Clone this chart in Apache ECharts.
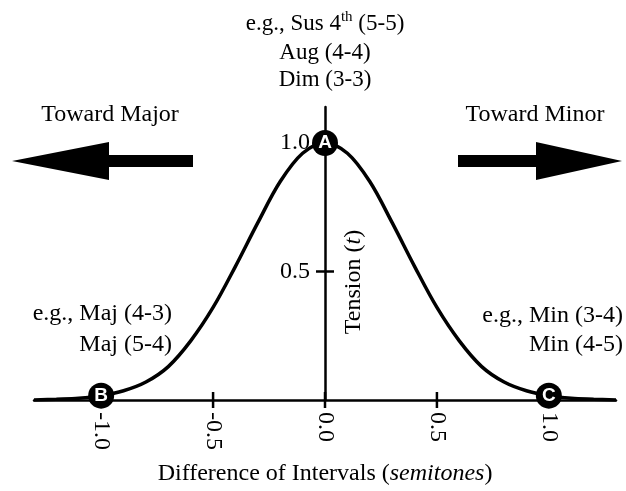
<!DOCTYPE html>
<html>
<head>
<meta charset="utf-8">
<script src="https://cdn.jsdelivr.net/npm/echarts@6/dist/echarts.min.js"></script>
<style>html,body{margin:0;padding:0;background:#fff}#c{width:626px;height:491px}</style>
</head>
<body>
<div id="c"></div>
<script>
// Data
const diffX   = [-1.3,-1.2,-1.1,-1.0,-0.9,-0.8,-0.7,-0.6,-0.5,-0.4,-0.3,-0.2,-0.1,0.0,0.1,0.2,0.3,0.4,0.5,0.6,0.7,0.8,0.9,1.0,1.1,1.2,1.3];
const tension = [0.0,0.003,0.007,0.017,0.036,0.07,0.13,0.23,0.36,0.52,0.69,0.85,0.96,1.0,0.96,0.85,0.69,0.52,0.36,0.23,0.13,0.07,0.036,0.017,0.007,0.003,0.0];
const xTicks = [-1.0,-0.5,0.0,0.5,1.0];
const yTicks = [0.5,1.0];
const markerNames = ['A','B','C'];
const markerX = [0.0,-1.0,1.0];
const markerY = [1.0,0.017,0.017];
const xTitle = 'Difference of Intervals';
const xTitleItalic = 'semitones';
const yTitle = 'Tension';
const yTitleItalic = 't';
const topNotes = ['Aug (4-4)','Dim (3-3)'];
const leftNotes = ['e.g., Maj (4-3)','Maj (5-4)'];
const rightNotes = ['e.g., Min (3-4)','Min (4-5)'];

const SERIF = "'Liberation Serif','Times New Roman',serif";
const FS = 24;
const chart = echarts.init(document.getElementById('c'), null, {renderer:'canvas'});

const txt = (text, x, y, align, fs) => ({
  type:'text', x:x, y:y, silent:true,
  style:{text:text, fontFamily:SERIF, fontSize:fs||FS, fill:'#000', align:align||'center', verticalAlign:'middle'}
});

chart.setOption({
  animation:false,
  backgroundColor:'#fff',
  grid:{left:34, right:10, top:107, bottom:91, containLabel:false, outerBoundsMode:'none'},
  xAxis:{
    type:'value', min:-1.3, max:1.3,
    axisLine:{show:true, onZero:true, lineStyle:{color:'#000', width:2.5}},
    axisTick:{show:false},
    splitLine:{show:false},
    axisLabel:{customValues:xTicks, rotate:-90, margin:12, fontFamily:SERIF, fontSize:FS, color:'#000',
      formatter:v=>v.toFixed(1)},
    name:'{n|'+xTitle+' (}{i|'+xTitleItalic+'}{n|)}',
    nameLocation:'middle', nameGap:62,
    nameTextStyle:{rich:{n:{fontFamily:SERIF,fontSize:FS,color:'#000'}, i:{fontFamily:SERIF,fontSize:FS,fontStyle:'italic',color:'#000'}}}
  },
  yAxis:{
    type:'value', min:0, max:1.14,
    axisLine:{show:true, onZero:true, lineStyle:{color:'#000', width:2.5}},
    axisTick:{show:false},
    splitLine:{show:false},
    axisLabel:{show:false}
  },
  series:[
    {type:'line', data:diffX.map((x,i)=>[x,tension[i]]), smooth:0.35, showSymbol:false,
      lineStyle:{color:'#000', width:3.5}, z:3, silent:true},
    {type:'scatter', data:xTicks.map(v=>[v,0]), symbol:'rect', symbolSize:[2.5,16],
      itemStyle:{color:'#000', opacity:1}, z:2, silent:true},
    {type:'scatter', data:yTicks.map(v=>[0,v]), symbol:'rect', symbolSize:[18,2.5],
      itemStyle:{color:'#000', opacity:1}, z:2, silent:true,
      label:{show:true, position:'left', distance:6, formatter:p=>p.value[1].toFixed(1),
        fontFamily:SERIF, fontSize:FS, color:'#000'}},
    {type:'scatter', data:markerNames.map((n,i)=>({name:n, value:[markerX[i],markerY[i]]})),
      symbol:'circle', symbolSize:26, itemStyle:{color:'#000', opacity:1}, z:5, silent:true,
      label:{show:true, position:'inside', formatter:p=>p.name, color:'#fff',
        fontFamily:"'Liberation Sans',Arial,sans-serif", fontWeight:'bold', fontSize:19}}
  ],
  graphic:[
    {type:'text', x:325, y:24, silent:true,
      style:{text:'{n|e.g., Sus 4}{s|th}{n| (5-5)}', align:'center', verticalAlign:'middle',
        rich:{n:{fontFamily:SERIF,fontSize:23,fill:'#000',color:'#000',lineHeight:28},
              s:{fontFamily:SERIF,fontSize:15,fill:'#000',color:'#000',verticalAlign:'top',lineHeight:28,padding:[0,0,10,0]}}}},
    txt(topNotes[0], 325, 53, 'center', 23),
    txt(topNotes[1], 325, 80, 'center', 23),
    txt('Toward Major', 110, 115),
    txt('Toward Minor', 535, 115),
    txt(leftNotes[0], 172, 314, 'right'),
    txt(leftNotes[1], 172, 345, 'right'),
    txt(rightNotes[0], 623, 316, 'right'),
    txt(rightNotes[1], 623, 345, 'right'),
    {type:'text', x:354, y:282, rotation:Math.PI/2, silent:true,
      style:{text:'{n|'+yTitle+' (}{i|'+yTitleItalic+'}{n|)}', align:'center', verticalAlign:'middle',
        rich:{n:{fontFamily:SERIF,fontSize:FS,fill:'#000',color:'#000'}, i:{fontFamily:SERIF,fontSize:FS,fontStyle:'italic',fill:'#000',color:'#000'}}}},
    {type:'polygon', silent:true, shape:{points:[[12,161],[109,142],[109,155],[193,155],[193,167],[109,167],[109,180]]}, style:{fill:'#000'}},
    {type:'polygon', silent:true, shape:{points:[[622,161],[536,142],[536,155],[458,155],[458,167],[536,167],[536,180]]}, style:{fill:'#000'}}
  ]
});
</script>
</body>
</html>
